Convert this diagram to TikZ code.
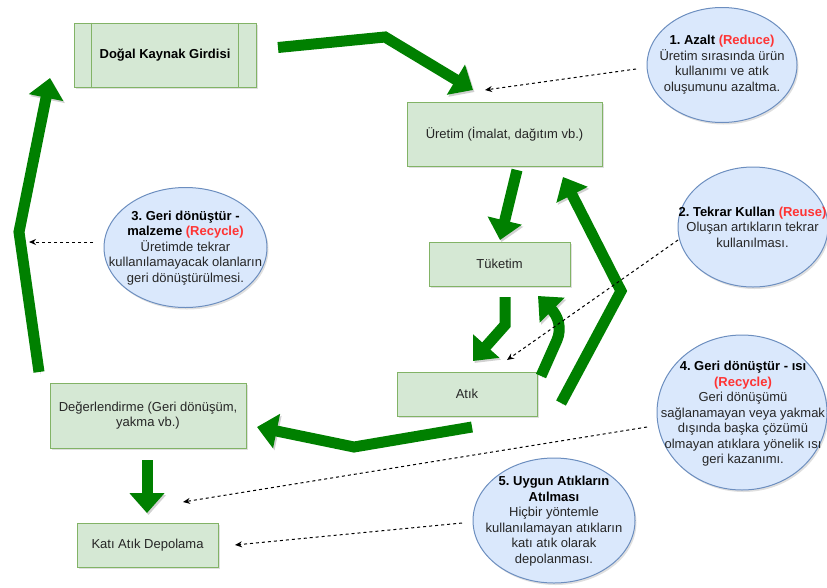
\documentclass[tikz,border=0pt]{standalone}
\usepackage{fontspec}
\setmainfont{Liberation Sans}
\usetikzlibrary{arrows.meta,shapes.geometric,shadows}
\definecolor{boxfill}{HTML}{D5E8D4}
\definecolor{boxline}{HTML}{82B366}
\definecolor{ellfill}{HTML}{DAE8FC}
\definecolor{ellline}{HTML}{6C8EBF}
\definecolor{arrgreen}{HTML}{008000}
\definecolor{redtxt}{HTML}{FF3333}
\definecolor{txt}{HTML}{262626}
\frenchspacing
\tikzset{
  basefont/.style={font=\fontsize{13}{15.5}\selectfont},
  stagebox/.style={draw=boxline, fill=boxfill, line width=1pt, rectangle, inner sep=0pt,
    align=center, text=txt, basefont,
    drop shadow={opacity=0.25, shadow xshift=1.5pt, shadow yshift=-2pt}},
  bubble/.style={draw=ellline, fill=ellfill, line width=1pt, ellipse, inner sep=0pt,
    drop shadow={opacity=0.25, shadow xshift=1.5pt, shadow yshift=-2pt}},
  bubbletext/.style={align=center, text=txt, basefont, inner sep=0pt},
  flex/.style={draw=arrgreen, line width=11pt, line join=miter,
    -{Triangle[width=34pt,length=20pt]},
    preaction={draw=black!18, transform canvas={shift={(1.5pt,-2pt)}}}},
  hint/.style={draw=black, line width=1pt, dash pattern=on 3pt off 3pt,
    -{Stealth[length=7pt,width=6pt]}},
}
\newcommand{\ttl}[1]{\textbf{\color{black}#1}}
\newcommand{\rtxt}[1]{\textbf{\color{redtxt}#1}}
\begin{document}
\begin{tikzpicture}[x=1pt,y=-1pt]
\useasboundingbox (0,0) rectangle (827,587);

% process boxes
\node[stagebox, minimum width=182pt, minimum height=64pt] (dogal) at (165,55) {\ttl{Doğal Kaynak Girdisi}};
\draw[boxline, line width=1pt] ([xshift=18pt]dogal.north west) -- ([xshift=18pt]dogal.south west);
\draw[boxline, line width=1pt] ([xshift=-18pt]dogal.north east) -- ([xshift=-18pt]dogal.south east);
\node[stagebox, minimum width=195pt, minimum height=64pt] (uretim) at (504.5,134) {Üretim (İmalat, dağıtım vb.)};
\node[stagebox, minimum width=141pt, minimum height=44pt] (tuketim) at (499.5,264) {Tüketim};
\node[stagebox, minimum width=140pt, minimum height=44pt] (atik) at (467,394) {Atık};
\node[stagebox, minimum width=196pt, minimum height=65pt] (deger) at (148,415.5) {Değerlendirme (Geri dönüşüm,\\yakma vb.)};
\node[stagebox, minimum width=141pt, minimum height=44pt] (kati) at (147.5,545) {Katı Atık Depolama};

% bubbles
\node[bubble, minimum width=150pt, minimum height=115pt] (e1) at (722,65) {};
\node[bubbletext] (t1) at (722,64.5) {\ttl{1. Azalt} \rtxt{(Reduce)}\\Üretim sırasında ürün\\kullanımı ve atık\\oluşumunu azaltma.};
\node[bubble, minimum width=150pt, minimum height=120pt] (e2) at (753,227) {};
\node[bubbletext] (t2) at (752.5,227) {\ttl{2. Tekrar Kullan} \rtxt{(Reuse)}\\Oluşan artıkların tekrar\\kullanılması.};
\node[bubble, minimum width=163pt, minimum height=120pt] (e3) at (185.5,247.5) {};
\node[bubbletext] (t3) at (185.5,248) {\ttl{3. Geri dönüştür -}\\\ttl{malzeme} \rtxt{(Recycle)}\\Üretimde tekrar\\kullanılamayacak olanların\\geri dönüştürülmesi.};
\node[bubble, minimum width=170pt, minimum height=155pt] (e4) at (742,412.5) {};
\node[bubbletext] (t4) at (743,414) {\ttl{4. Geri dönüştür - ısı}\\\rtxt{(Recycle)}\\Geri dönüşümü\\sağlanamayan veya yakmak\\dışında başka çözümü\\olmayan atıklara yönelik ısı\\geri kazanımı.};
\node[bubble, minimum width=162pt, minimum height=125pt] (e5) at (554,520.5) {};
\node[bubbletext] (t5) at (554,521) {\ttl{5. Uygun Atıkların}\\\ttl{Atılması}\\Hiçbir yöntemle\\kullanılamayan atıkların\\katı atık olarak\\depolanması.};

% coordinates for connector ends
\coordinate (a1s) at (278,47.5);
\coordinate (a1m) at (385,37);
\coordinate (a1e) at (473,90);
\coordinate (a2s) at (517,170);
\coordinate (a2e) at (500,240);
\coordinate (a3s) at (505,297);
\coordinate (a3m) at (505,325);
\coordinate (a3e) at (473,361);
\coordinate (a4s) at (541,376);
\coordinate (a4m) at (557,340);
\coordinate (a4e) at (538,296);
\coordinate (a5s) at (561,403);
\coordinate (a5m) at (621,291);
\coordinate (a5e) at (563,177);
\coordinate (a6s) at (472,427);
\coordinate (a6m) at (354,447);
\coordinate (a6e) at (257,427);
\coordinate (a7s) at (147,460);
\coordinate (a7e) at (147,513);
\coordinate (a8s) at (39,372);
\coordinate (a8m) at (19,232);
\coordinate (a8e) at (50,78);

\coordinate (d1s) at (636,69);
\coordinate (d1e) at (485,90);
\coordinate (d2s) at (678,240);
\coordinate (d2e) at (507,360);
\coordinate (d3s) at (93,242);
\coordinate (d3e) at (29,242);
\coordinate (d4s) at (647,427);
\coordinate (d4e) at (183,502);
\coordinate (d5s) at (462,523);
\coordinate (d5e) at (235,545);

% flex arrows
\draw[flex] (a1s) -- (a1m) -- (a1e);
\draw[flex] (a2s) -- (a2e);
\draw[flex] (a3s) -- (a3m) -- (a3e);
\draw[flex] (a4s) -- (a4m) .. controls (562,328) and (558,316) .. (a4e);
\draw[flex] (a5s) -- (a5m) -- (a5e);
\draw[flex] (a6s) -- (a6m) -- (a6e);
\draw[flex] (a7s) -- (a7e);
\draw[flex] (a8s) -- (a8m) -- (a8e);

% dashed hints
\draw[hint] (d1s) -- (d1e);
\draw[hint] (d2s) -- (d2e);
\draw[hint] (d3s) -- (d3e);
\draw[hint] (d4s) -- (d4e);
\draw[hint] (d5s) -- (d5e);
\end{tikzpicture}
\end{document}
